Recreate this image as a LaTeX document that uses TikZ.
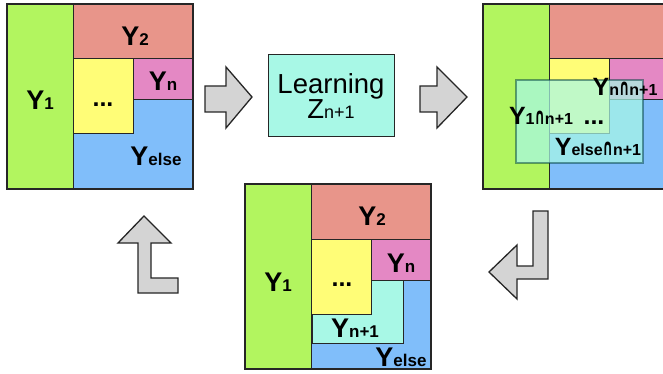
\documentclass[tikz,border=0pt]{standalone}
\usepackage{fontspec}
\setmainfont{Liberation Sans}
\newfontfamily\djv{DejaVu Sans}
\definecolor{cgreen}{RGB}{178,245,95}
\definecolor{cred}{RGB}{232,149,138}
\definecolor{cyellow}{RGB}{255,253,119}
\definecolor{cpink}{RGB}{228,136,196}
\definecolor{cblue}{RGB}{128,190,250}
\definecolor{caqua}{RGB}{168,248,230}
\definecolor{carrow}{RGB}{212,212,212}
\newcommand\Ylab[1]{{\fontsize{27}{27}\selectfont\bfseries Y}{\fontsize{17}{17}\selectfont\bfseries #1}}
\newcommand\Ysmall[1]{{\fontsize{25}{25}\selectfont\bfseries Y}{\fontsize{16}{16}\selectfont\bfseries #1}}
\newcommand\capint{\scalebox{0.8}[1.45]{{\djv\bfseries ∩}}}
\tikzset{
  cell/.style={draw=black!85, line width=1pt},
  lab/.style={inner sep=0pt, text depth=0pt},
  dots/.style={inner sep=0pt, text depth=0pt, font=\fontsize{25}{25}\selectfont\bfseries},
  garrow/.style={draw=black!85, fill=carrow, line width=1.3pt, line join=miter},
  learnbox/.style={draw=black!85, fill=caqua, line width=1pt, minimum width=126pt, minimum height=82pt, align=center, inner sep=0pt},
  panel/.pic={
    \filldraw[cell, fill=cgreen] (7,4) rectangle (73,189);
    \filldraw[cell, fill=cred] (73,4) rectangle (193,59);
    \filldraw[cell, fill=cyellow] (73,59) rectangle (133,134);
    \filldraw[cell, fill=cpink] (133,59) rectangle (193,100);
    \filldraw[cell, fill=cblue] (73,134) -- (133,134) -- (133,100) -- (193,100) -- (193,189) -- (73,189) -- cycle;
    \draw[draw=black!85, line width=1.4pt] (7,4) rectangle (193,189);
  }
}
\begin{document}
\begin{tikzpicture}[x=1pt,y=-1pt]
\useasboundingbox (0,0) rectangle (663,374);
\clip (0,0) rectangle (663,374);
\fill[white] (0,0) rectangle (663,374);

% left panel
\pic at (0,0) {panel};
\node[lab] (l1) at (40,100) {\Ylab{1}};
\node[lab] (l2) at (135,36) {\Ylab{2}};
\node[lab] (ln) at (163,81) {\Ylab{n}};
\node[dots] (ld) at (103,105) {...};
\node[lab] (le) at (156,156) {\Ylab{else}};

% right panel
\pic at (476,0) {panel};
\filldraw[draw=black!50!teal, draw opacity=0.5, fill=caqua, fill opacity=0.72, line width=1.5pt] (516,80) rectangle (643,163);
\node[lab] (r1) at (541,116) {\Ysmall{1\capint n+1}};
\node[lab] (rn) at (625,87) {\Ysmall{n\capint n+1}};
\node[dots] (rd) at (594,123) {...};
\node[lab] (re) at (598,147) {\Ysmall{else\capint n+1}};

% bottom panel
\pic at (238,180) {panel};
\filldraw[cell, fill=caqua] (312,314) -- (371,314) -- (371,280) -- (403,280) -- (403,343) -- (312,343) -- cycle;
\draw[draw=black!85, line width=1.4pt] (245,184) rectangle (431,369);
\node[lab] (b1) at (278,282) {\Ylab{1}};
\node[lab] (b2) at (372,216) {\Ylab{2}};
\node[lab] (bn) at (401,263) {\Ylab{n}};
\node[dots] (bd) at (342,285) {...};
\node[lab] (bn1) at (355,328) {\Ylab{n+1}};
\node[lab] (be) at (401,357) {\Ylab{else}};

% learning box
\node[learnbox] (learn) at (331,96) {\fontsize{27.5}{33}\selectfont Learning\\\fontsize{27.5}{33}\selectfont Z{\fontsize{18}{18}\selectfont n+1}};

% arrows
\draw[garrow] (205,86) -- (226,86) -- (226,67) -- (252,97) -- (226,128) -- (226,112) -- (205,112) -- cycle;
\draw[garrow] (420,86) -- (437,86) -- (437,67) -- (467,97) -- (437,128) -- (437,112) -- (420,112) -- cycle;
\draw[garrow] (533,211) -- (548,211) -- (548,279) -- (517,279) -- (517,299) -- (489,272) -- (517,245) -- (517,266) -- (533,266) -- cycle;
\draw[garrow] (144,216) -- (171,243) -- (151,243) -- (151,278) -- (178,278) -- (178,293) -- (138,293) -- (138,243) -- (118,243) -- cycle;
\end{tikzpicture}
\end{document}
